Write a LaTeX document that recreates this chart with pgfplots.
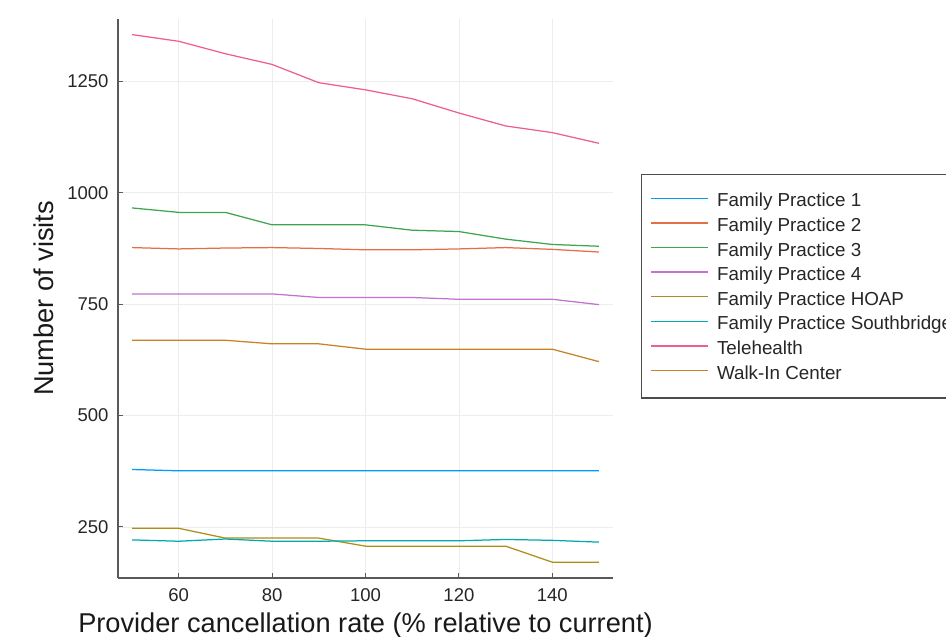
\documentclass[border=0pt]{standalone}
\usepackage{pgfplots}
\pgfplotsset{compat=1.18}
\usepackage{fontspec}
\setmainfont{Liberation Sans}
\definecolor{c1}{HTML}{009AFA}
\definecolor{c2}{HTML}{E36F47}
\definecolor{c3}{HTML}{3EA44E}
\definecolor{c4}{HTML}{C371D2}
\definecolor{c5}{HTML}{AC8E18}
\definecolor{c6}{HTML}{00AAAE}
\definecolor{c7}{HTML}{ED5E93}
\definecolor{c8}{HTML}{C68225}
\begin{document}
\begin{tikzpicture}
\begin{axis}[
  at={(118pt,59pt)}, anchor=south west,
  scale only axis, width=495pt, height=559pt,
  xmin=47, xmax=153, ymin=135.5, ymax=1390,
  axis x line*=bottom, axis y line*=left,
  axis line style={-, draw=black!65, line width=1.4pt},
  xtick={60,80,100,120,140}, ytick={250,500,750,1000,1250},
  tick align=inside, major tick length=5pt,
  tick style={black!65, line width=1pt},
  grid=major, grid style={black!7, line width=0.7pt},
  ticklabel style={font=\fontsize{18.5}{20}\selectfont, text=black!85},
  xticklabel style={yshift=-7pt},
  yticklabel style={xshift=-6pt},
  /pgf/number format/assume math mode=true,
  /pgf/number format/1000 sep={},
  xlabel={Provider cancellation rate (\% relative to current)},
  ylabel={Number of visits},
  label style={font=\fontsize{27.2}{30}\selectfont, text=black!90},
  xlabel style={at={(axis description cs:0.5,-0.0971)}, anchor=base},
  ylabel style={at={(axis description cs:-0.1313,0.5)}, anchor=base},
  legend style={at={(1.0566,0.7227)}, anchor=north west, draw=black!70,
    line width=1.3pt, inner xsep=9pt, inner ysep=13.25pt, column sep=6pt,
    font=\fontsize{18.8}{22}\selectfont, text=black!85,
    nodes={text height=15.5pt, text depth=2pt, inner ysep=3.55pt}},
  legend cell align=left,
  legend image code/.code={\draw[#1, line width=1.4pt] (0pt,2pt) -- (57pt,2pt);},
  every axis plot/.append style={line width=1.25pt},
]
\addplot[c1] coordinates {(50,379) (60,376) (70,376) (80,376) (90,376) (100,376) (110,376) (120,376) (130,376) (140,376) (150,376)};
\addlegendentry{Family Practice 1}
\addplot[c2] coordinates {(50,877) (60,874) (70,876) (80,877) (90,875) (100,872) (110,872) (120,874) (130,877) (140,873) (150,867)};
\addlegendentry{Family Practice 2}
\addplot[c3] coordinates {(50,966) (60,956) (70,956) (80,928) (90,928) (100,928) (110,916) (120,913) (130,896) (140,884) (150,880)};
\addlegendentry{Family Practice 3}
\addplot[c4] coordinates {(50,773) (60,773) (70,773) (80,773) (90,765) (100,765) (110,765) (120,761) (130,761) (140,761) (150,749)};
\addlegendentry{Family Practice 4}
\addplot[c5] coordinates {(50,247) (60,247) (70,225) (80,225) (90,225) (100,207) (110,207) (120,207) (130,207) (140,171) (150,171)};
\addlegendentry{Family Practice HOAP}
\addplot[c6] coordinates {(50,221) (60,218) (70,223) (80,218) (90,218) (100,219) (110,219) (120,219) (130,222) (140,220) (150,216)};
\addlegendentry{Family Practice Southbridge}
\addplot[c7] coordinates {(50,1355) (60,1340) (70,1312) (80,1288) (90,1247) (100,1231) (110,1211) (120,1179) (130,1150) (140,1135) (150,1111)};
\addlegendentry{Telehealth}
\addplot[c8] coordinates {(50,669) (60,669) (70,669) (80,661) (90,661) (100,649) (110,649) (120,649) (130,649) (140,649) (150,621)};
\addlegendentry{Walk-In Center}
\end{axis}
\pgfresetboundingbox
\useasboundingbox (0pt,0pt) rectangle (946pt,637pt);
\end{tikzpicture}
\end{document}
